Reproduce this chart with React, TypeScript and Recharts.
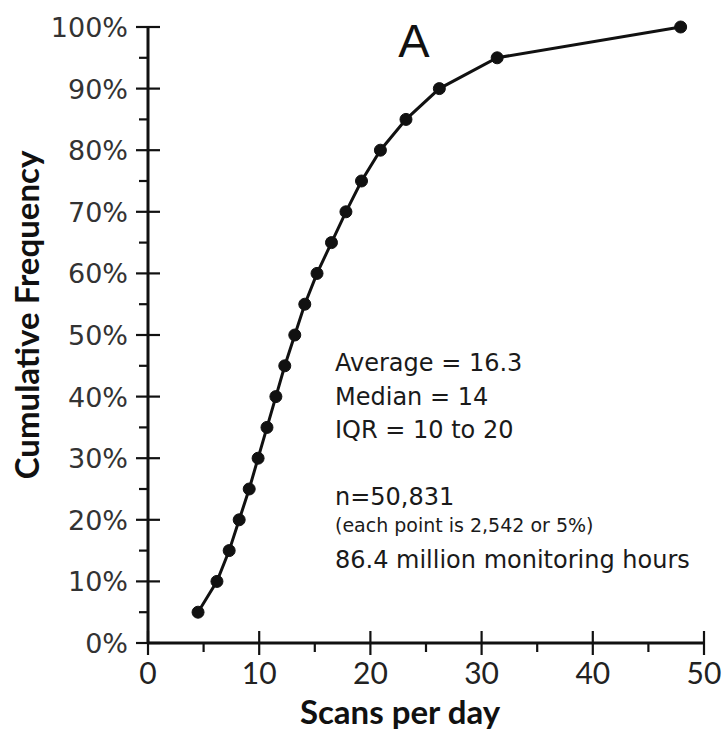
import { LineChart, Line, XAxis, YAxis, Customized } from "recharts";

// scans per day at each 5% step of the cumulative distribution
const scansPerDay: number[] = [
  4.5, 6.2, 7.3, 8.2, 9.1, 9.9, 10.7, 11.5, 12.3, 13.2,
  14.1, 15.2, 16.5, 17.8, 19.2, 20.9, 23.2, 26.2, 31.4, 47.9,
];
const cumulativePct: number[] = [
  5, 10, 15, 20, 25, 30, 35, 40, 45, 50,
  55, 60, 65, 70, 75, 80, 85, 90, 95, 100,
];

const xTicks: number[] = [0, 5, 10, 15, 20, 25, 30, 35, 40, 45, 50];
const yTicks: number[] = [0, 5, 10, 15, 20, 25, 30, 35, 40, 45, 50, 55, 60, 65, 70, 75, 80, 85, 90, 95, 100];

const statsLines: string[] = ["Average = 16.3", "Median = 14", "IQR = 10 to 20"];
const sampleLines: string[] = ["n=50,831", "(each point is 2,542 or 5%)", "86.4 million monitoring hours"];

const data = scansPerDay.map((x, i) => ({ scans: x, pct: cumulativePct[i] }));

const INK = "#111";

function XTick(props: any) {
  const { x, y, payload } = props;
  const major = payload.value % 10 === 0;
  return (
    <g>
      <line x1={x} x2={x} y1={major ? y - 12 : y} y2={y + (major ? 12 : 9)} stroke={INK} strokeWidth={2.2} />
      {major && (
        <text x={x} y={y + 41} textAnchor="middle" fontFamily="Lato" fontSize={30} fill="#222">
          {payload.value}
        </text>
      )}
    </g>
  );
}

function YTick(props: any) {
  const { x, y, payload } = props;
  const major = payload.value % 10 === 0;
  return (
    <g>
      <line x1={major ? x - 12 : x - 9} x2={major ? x + 12 : x} y1={y} y2={y} stroke={INK} strokeWidth={2.2} />
      {major && (
        <text x={x - 20} y={y + 10} textAnchor="end" fontFamily="DejaVu Sans" fontSize={27} fill="#333">
          {`${payload.value}%`}
        </text>
      )}
    </g>
  );
}

function Notes() {
  return (
    <g fontFamily="DejaVu Sans" fill="#1a1a1a">
      <text x={414} y={57} textAnchor="middle" fontFamily="Liberation Sans" fontSize={47} fill="#111">
        A
      </text>
      {statsLines.map((s, i) => (
        <text key={s} x={335} y={371 + i * 33.7} fontSize={24}>
          {s}
        </text>
      ))}
      <text x={335} y={505} fontSize={24}>{sampleLines[0]}</text>
      <text x={335} y={532} fontSize={19}>{sampleLines[1]}</text>
      <text x={335} y={568} fontSize={24}>{sampleLines[2]}</text>
      <text x={400} y={724} textAnchor="middle" fontFamily="Lato" fontWeight="bold" fontSize={33} fill="#111">
        Scans per day
      </text>
      <text
        x={0}
        y={0}
        transform="translate(39, 315) rotate(-90)"
        textAnchor="middle"
        fontFamily="Lato"
        fontWeight="bold"
        fontSize={33}
        fill="#111"
      >
        Cumulative Frequency
      </text>
    </g>
  );
}

export default function App() {
  return (
    <div style={{ position: "absolute", left: 0, top: 0, width: 723, height: 738, background: "#fff" }}>
      <LineChart width={723} height={738} data={data} margin={{ top: 27, right: 19, bottom: 0, left: 0 }}>
        <XAxis
          type="number"
          dataKey="scans"
          domain={[0, 50]}
          ticks={xTicks}
          interval={0}
          height={95}
          tickSize={0}
          tickMargin={0}
          tick={<XTick />}
          axisLine={{ stroke: INK, strokeWidth: 3 }}
        />
        <YAxis
          type="number"
          dataKey="pct"
          domain={[0, 100]}
          ticks={yTicks}
          interval={0}
          width={148}
          tickSize={0}
          tickMargin={0}
          tick={<YTick />}
          axisLine={{ stroke: INK, strokeWidth: 3 }}
        />
        <Line
          type="linear"
          dataKey="pct"
          stroke={INK}
          strokeWidth={3}
          dot={{ r: 6, fill: INK, stroke: INK, strokeWidth: 1 }}
          isAnimationActive={false}
        />
        <Customized component={<Notes />} />
      </LineChart>
    </div>
  );
}
